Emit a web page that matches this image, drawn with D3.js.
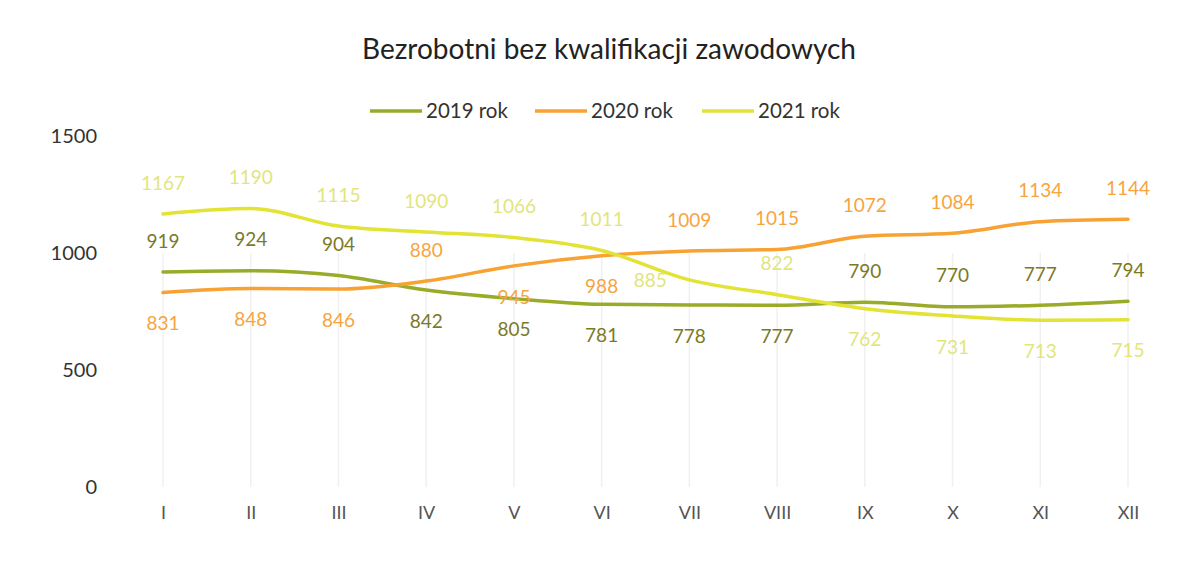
<!DOCTYPE html>
<html><head><meta charset="utf-8">
<script src="https://cdn.jsdelivr.net/npm/d3@7"></script>
<style>body{margin:0;background:#fff}svg{display:block}</style>
</head><body><svg id="c" width="1189" height="580"></svg>
<script>
const months = ["I","II","III","IV","V","VI","VII","VIII","IX","X","XI","XII"];
const s2019 = [919,924,904,842,805,781,778,777,790,770,777,794];
const s2020 = [831,848,846,880,945,988,1009,1015,1072,1084,1134,1144];
const s2021 = [1167,1190,1115,1090,1066,1011,885,822,762,731,713,715];
const yTicks = [0,500,1000,1500];
// label placement: a = above, b = below, l = left
const pos2019 = ["a","a","a","b","b","b","b","b","a","a","a","a"];
const pos2020 = ["b","b","b","a","b","b","a","a","a","a","a","a"];
const pos2021 = ["a","a","a","a","a","a","l","a","b","b","b","b"];

const series = [
  {name:"2019 rok", values:s2019, pos:pos2019, color:"#9aab2a", label:"#7a7a26"},
  {name:"2020 rok", values:s2020, pos:pos2020, color:"#f7a233", label:"#f7a43f"},
  {name:"2021 rok", values:s2021, pos:pos2021, color:"#e2e335", label:"#e2e57c"}
];

const svg = d3.select("#c");
const font = "Lato, 'Open Sans', sans-serif";
const x = d3.scalePoint().domain(months).range([163,1128]);
const y = d3.scaleLinear().domain([0,1500]).range([487,136]);

// vertical gridlines
svg.append("g").selectAll("line").data(months).join("line")
  .attr("x1",d=>x(d)).attr("x2",d=>x(d))
  .attr("y1",y(1000)).attr("y2",y(0))
  .attr("stroke","#f0f0f0").attr("stroke-width",1.5);

// y axis
const ya = svg.append("g").attr("transform","translate(97,0)")
  .call(d3.axisLeft(y).tickValues(yTicks).tickFormat(d3.format("d")).tickSize(0).tickPadding(0));
ya.select(".domain").remove();
ya.selectAll("text").attr("font-family",font).attr("font-size",20).attr("fill","#333");

// x axis
const xa = svg.append("g").attr("transform","translate(0,506)")
  .call(d3.axisBottom(x).tickSize(0).tickPadding(0));
xa.select(".domain").remove();
xa.selectAll("text").attr("font-family",font).attr("font-size",18).attr("fill","#555").attr("dy","0.71em");

// title
svg.append("text").attr("x",609).attr("y",59).attr("text-anchor","middle")
  .attr("font-family",font).attr("font-size",28).attr("fill","#222")
  .text("Bezrobotni bez kwalifikacji zawodowych");

// legend
const legX = [370,535,702];
series.forEach((s,i)=>{
  const g = svg.append("g").attr("transform",`translate(${legX[i]},111)`);
  g.append("line").attr("x1",0).attr("x2",52).attr("y1",0).attr("y2",0)
    .attr("stroke",s.color).attr("stroke-width",3.5);
  g.append("text").attr("x",56).attr("y",0).attr("dy","0.35em")
    .attr("font-family",font).attr("font-size",20.5).attr("fill","#333").text(s.name);
});

// lines
const line = d3.line().x((d,i)=>x(months[i])).y(d=>y(d)).curve(d3.curveMonotoneX);
series.forEach(s=>{
  svg.append("path").attr("d",line(s.values)).attr("fill","none")
    .attr("stroke",s.color).attr("stroke-width",3.5).attr("stroke-linecap","round");
});

// labels
series.forEach(s=>{
  svg.append("g").selectAll("text").data(s.values).join("text")
    .attr("x",(d,i)=>x(months[i]) + (s.pos[i]==="l" ? -39 : 0))
    .attr("y",(d,i)=>y(d) + (s.pos[i]==="a" ? -31 : s.pos[i]==="b" ? 31 : 0))
    .attr("dy","0.35em").attr("text-anchor","middle")
    .attr("font-family",font).attr("font-size",19).attr("fill",s.label)
    .text(d=>d);
});
</script></body></html>
